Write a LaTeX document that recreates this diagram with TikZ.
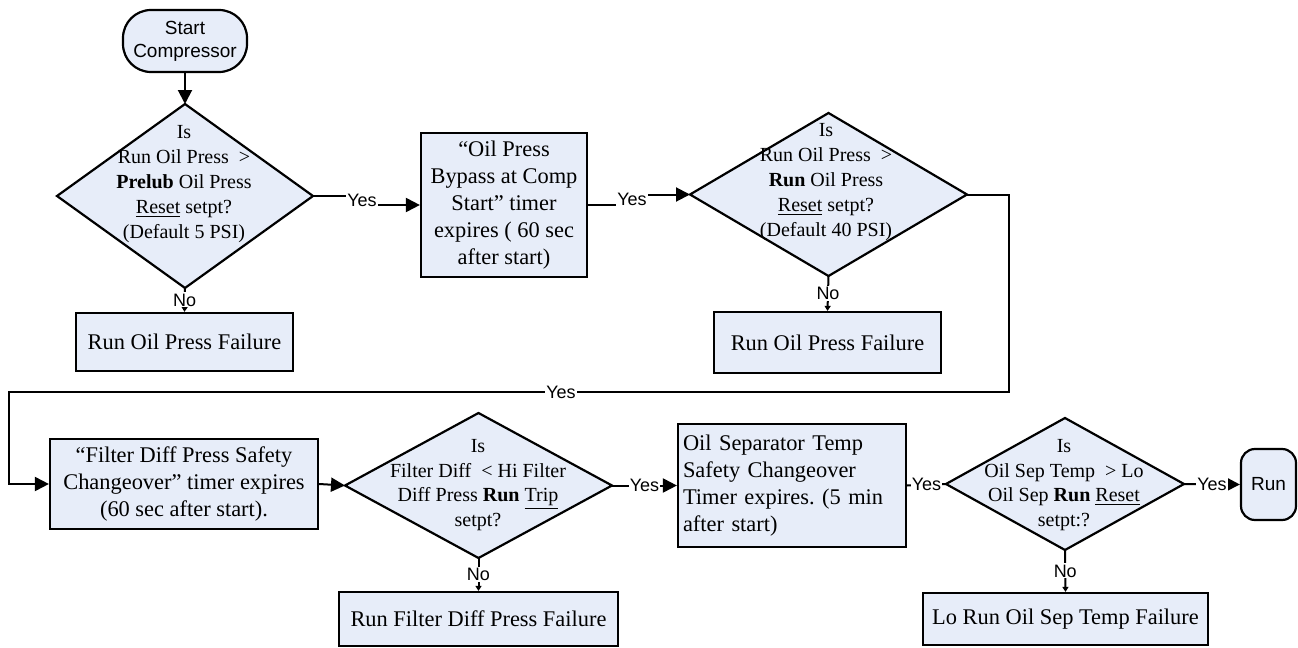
\documentclass[tikz,border=0pt]{standalone}
\usepackage{fontspec}
\setmainfont{Liberation Serif}
\setsansfont{Liberation Sans}
\usetikzlibrary{shapes.geometric,arrows.meta}
\definecolor{boxfill}{RGB}{231,237,249}
\newcommand\boxfnt{\fontsize{11.2}{13.5}\selectfont}
\newcommand\diafnt{\fontsize{10}{12.4}\selectfont}
\newcommand\lblfnt{\sffamily\fontsize{9}{10}\selectfont}
\tikzset{
  procbox/.style={draw, line width=1.1pt, fill=boxfill, font=\boxfnt, align=center, inner sep=2pt},
  dia/.style={diamond, draw, line width=1.1pt, fill=boxfill, inner sep=0pt, outer sep=0pt},
  dtext/.style={font=\diafnt, align=center, inner sep=0pt},
  term/.style={draw, line width=1.1pt, fill=boxfill, font=\sffamily\fontsize{9.5}{11.5}\selectfont, align=center, inner sep=1pt},
  lbl/.style={font=\lblfnt, fill=white, inner sep=0.6pt},
  conn/.style={line width=1pt},
  arr/.style={line width=1pt, -{Triangle[length=7pt,width=7pt]}},
  sarr/.style={line width=1pt, -{Triangle[length=2.5pt,width=3pt]}}
}
\frenchspacing
\begin{document}
\begin{tikzpicture}[x=0.5pt,y=-0.5pt]
\useasboundingbox (0,0) rectangle (1298,648);
\fill[white] (0,0) rectangle (1298,648);

% top row
\node[term, rounded corners=14pt, minimum width=62pt, minimum height=31pt] (start) at (185,41) {Start\\Compressor};
\node[dia, minimum width=128pt, minimum height=92pt] (d1) at (185,196) {};
\node[dtext] (d1t) at (184,184) {Is\\Run Oil Press \ >\\\textbf{Prelub} Oil Press\\\underline{Reset} setpt?\\(Default 5 PSI)};
\node[procbox, minimum width=108.5pt, minimum height=29pt] (f1) at (184.5,342) {Run Oil Press Failure};

\node[procbox, minimum width=83pt, minimum height=72pt, inner sep=1pt] (b2) at (504,205) {“Oil Press\\Bypass at Comp\\Start” timer\\expires ( 60 sec\\after start)};

\node[dia, minimum width=138.5pt, minimum height=81.5pt] (d2) at (828.5,194.5) {};
\node[dtext] (d2t) at (826,182) {Is\\Run Oil Press \ >\\\textbf{Run} Oil Press\\\underline{Reset} setpt?\\(Default 40 PSI)};
\node[procbox, minimum width=113.5pt, minimum height=30.5pt] (f2) at (827.5,342.5) {Run Oil Press Failure};

% bottom row
\node[procbox, minimum width=134pt, minimum height=45pt, inner sep=1pt] (b3) at (184,484) {“Filter Diff Press Safety\\Changeover” timer expires\\(60 sec after start).};

\node[dia, minimum width=133.5pt, minimum height=72.5pt] (d3) at (478.5,485.5) {};
\node[dtext] (d3t) at (478,485) {Is\\Filter Diff \ < Hi Filter\\Diff Press \textbf{Run} \underline{Trip}\\setpt?};
\node[procbox, minimum width=139.5pt, minimum height=27pt] (f3) at (478.5,619) {Run Filter Diff Press Failure};

\node[procbox, minimum width=114pt, minimum height=61.5pt, text width=109pt, align=left, inner xsep=2.5pt] (b4) at (792,485.5) {Oil Separator Temp\\Safety Changeover\\Timer expires. (5 min\\after start)};

\node[dia, minimum width=119pt, minimum height=66pt] (d4) at (1065,484) {};
\node[dtext] (d4t) at (1064,485) {Is\\Oil Sep Temp \ > Lo\\Oil Sep \textbf{Run} \underline{Reset}\\setpt:?};
\node[procbox, minimum width=142.5pt, minimum height=26pt] (f4) at (1065.5,619) {Lo Run Oil Sep Temp Failure};

\node[term, rounded corners=7pt, minimum width=27.5pt, minimum height=35.5pt] (run) at (1268.5,484.5) {Run};

% connectors
\draw[arr] (start.south) -- (d1.north);

\draw[arr] (d1.east) -- ++(47,0) |- (b2.west);
\node[lbl] (y1) at (362,200) {Yes};

\draw[arr] (b2.east) -- ++(45,0) |- (d2.west);
\node[lbl] (y2) at (632,199) {Yes};

\coordinate (lp1) at (1009,392);
\coordinate (lp2) at (9,392);
\draw[arr] (d2.east) -| (lp1) -- (lp2) |- (b3.west);
\node[lbl] (y3) at (561,392) {Yes};

\draw[arr] (b3.east) -- (d3.west);
\draw[arr] (d3.east) -- node[lbl] (y4) {Yes} (b4.west);
\draw[conn] (b4.east) -- node[lbl] (y5) {Yes} (d4.west);
\draw[arr] (d4.east) -- node[lbl] (y6) {Yes} (run.west);

\draw[sarr] (d1.south) -- node[lbl] (n1) {No} (f1.north);
\draw[sarr] (d2.south) -- node[lbl] (n2) {No} (f2.north);
\draw[sarr] (d3.south) -- node[lbl] (n3) {No} (f3.north);
\draw[sarr] (d4.south) -- node[lbl] (n4) {No} (f4.north);
\end{tikzpicture}
\end{document}
